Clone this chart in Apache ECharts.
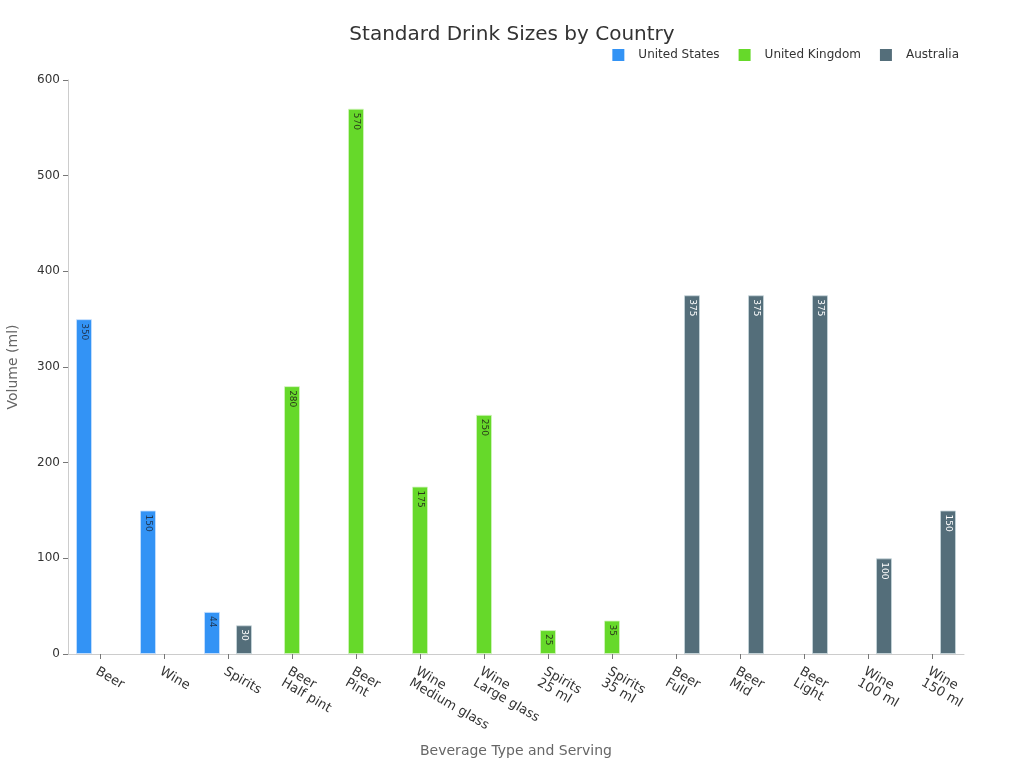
<!DOCTYPE html>
<html>
<head>
<meta charset="utf-8">
<script src="https://cdn.jsdelivr.net/npm/echarts@6/dist/echarts.min.js"></script>
<style>html,body{margin:0;padding:0;background:#fff;}#c{width:1024px;height:768px;}</style>
</head>
<body>
<div id="c"></div>
<script>
const categories = ['Beer','Wine','Spirits','Beer\nHalf pint','Beer\nPint','Wine\nMedium glass','Wine\nLarge glass','Spirits\n25 ml','Spirits\n35 ml','Beer\nFull','Beer\nMid','Beer\nLight','Wine\n100 ml','Wine\n150 ml'];
const usValues = [350,150,44,null,null,null,null,null,null,null,null,null,null,null];
const ukValues = [null,null,null,280,570,175,250,25,35,null,null,null,null,null];
const auValues = [null,null,30,null,null,null,null,null,null,375,375,375,100,150];
const yTicks = [0,100,200,300,400,500,600];

const font = 'DejaVu Sans';
function mk(name, data, color, labelColor, borderColor) {
  return {
    name: name, type: 'bar', data: data, barGap: '0%', barCategoryGap: '25%',
    itemStyle: { color: color, borderColor: borderColor, borderWidth: 1 },
    label: {
      show: true, position: 'insideTop', rotate: -90, align: 'left', verticalAlign: 'middle',
      distance: 4, fontSize: 9, color: labelColor, fontFamily: font
    }
  };
}
const chart = echarts.init(document.getElementById('c'));
chart.setOption({
  animation: false,
  textStyle: { fontFamily: font },
  title: { text: 'Standard Drink Sizes by Country', left: 'center', top: 20,
    textStyle: { fontSize: 20, fontWeight: 'normal', color: '#333', fontFamily: font } },
  legend: { top: 44, right: 60, itemWidth: 12, itemHeight: 12, itemGap: 19, icon: 'rect',
    itemStyle: { borderWidth: 0 },
    textStyle: { fontSize: 12, color: '#333', fontFamily: font, padding: [0, 0, 0, 9] },
    data: ['United States','United Kingdom','Australia'] },
  grid: { left: 68, right: 60, top: 80, bottom: 114, outerBoundsMode: 'none', containLabel: false },
  xAxis: {
    type: 'category', data: categories,
    name: 'Beverage Type and Serving', nameLocation: 'middle', nameGap: 90,
    nameTextStyle: { fontSize: 14, color: '#666', fontFamily: font },
    axisLine: { lineStyle: { color: '#ccc' } },
    axisTick: { show: true, alignWithLabel: true, length: 5, lineStyle: { color: '#777' } },
    axisLabel: { rotate: -30, fontSize: 13, color: '#333', interval: 0, fontFamily: font,
      margin: 11, align: 'left', verticalAlign: 'top' }
  },
  yAxis: {
    type: 'value', min: 0, max: 600, interval: 100,
    name: 'Volume (ml)', nameLocation: 'middle', nameGap: 48,
    nameTextStyle: { fontSize: 14, color: '#666', fontFamily: font },
    axisLine: { show: true, lineStyle: { color: '#ccc' } },
    axisTick: { show: true, length: 5, lineStyle: { color: '#777' } },
    splitLine: { show: false },
    axisLabel: { fontSize: 12, color: '#333', fontFamily: font,
      formatter: function(v){ return yTicks.indexOf(v) >= 0 ? String(v) : ''; } }
  },
  series: [
    mk('United States', usValues, '#3393f5', '#1f3550', 'rgba(200,225,255,0.8)'),
    mk('United Kingdom', ukValues, '#66d92a', '#2a3a1a', 'rgba(210,245,190,0.8)'),
    mk('Australia', auValues, '#546e7a', '#ffffff', 'rgba(200,215,220,0.8)')
  ]
});
</script>
</body>
</html>
